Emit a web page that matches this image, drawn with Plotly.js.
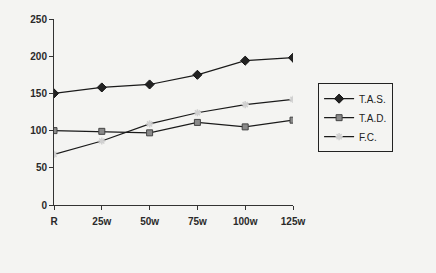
<!DOCTYPE html>
<html>
<head>
<meta charset="utf-8">
<script src="https://cdn.plot.ly/plotly-3.0.1.min.js"></script>
<style>
  html, body { margin: 0; padding: 0; background: #f4f4f2; }
  #chart { width: 436px; height: 273px; }
</style>
</head>
<body>
<div id="chart"></div>
<script>
// Load levels on the x axis
const categories = ['R', '25w', '50w', '75w', '100w', '125w'];
// Series values
const tas = [150, 158, 162, 175, 194, 198];
const tad = [100, 99, 97, 111, 105, 114];
const fc  = [68, 86, 109, 124, 135, 142];
const seriesNames = ['T.A.S.', 'T.A.D.', 'F.C.'];
const yTicks = [0, 50, 100, 150, 200, 250];

const lineStyle = { color: '#1a1a1a', width: 1.2 };

const traces = [
  {
    x: categories, y: tas, name: seriesNames[0], type: 'scatter', mode: 'lines+markers',
    line: lineStyle,
    marker: { symbol: 'diamond', size: 7, color: '#222', line: { color: '#111', width: 1 } }
  },
  {
    x: categories, y: tad, name: seriesNames[1], type: 'scatter', mode: 'lines+markers',
    line: lineStyle,
    marker: { symbol: 'square', size: 6, color: '#8a8a8a', line: { color: '#444', width: 1 } }
  },
  {
    x: categories, y: fc, name: seriesNames[2], type: 'scatter', mode: 'lines+markers',
    line: lineStyle,
    marker: { symbol: 'asterisk', size: 6, color: '#d8d8d8', line: { color: '#d0d0d0', width: 1.5 } }
  }
];

const tickFont = { size: 10, color: '#2a2a2a', weight: 'bold' };

const layout = {
  width: 436, height: 273,
  margin: { l: 54, r: 143, t: 19, b: 68 },
  paper_bgcolor: '#f4f4f2',
  plot_bgcolor: 'rgba(0,0,0,0)',
  font: { family: 'Liberation Sans, Arial, sans-serif', size: 10, color: '#222' },
  showlegend: true,
  legend: {
    x: 1.105, y: 0.655, xanchor: 'left', yanchor: 'top',
    bgcolor: 'rgba(0,0,0,0)', bordercolor: '#222', borderwidth: 1,
    font: { size: 10, color: '#222' },
    itemwidth: 30, tracegroupgap: 0
  },
  xaxis: {
    type: 'category', range: [0, 5],
    showgrid: false, zeroline: false,
    showline: true, linecolor: '#333', linewidth: 1,
    ticks: 'outside', ticklen: 4, tickcolor: '#333',
    ticklabelstandoff: 3,
    tickfont: tickFont
  },
  yaxis: {
    range: [0, 250], tickvals: yTicks,
    showgrid: false, zeroline: false,
    showline: true, linecolor: '#333', linewidth: 1,
    ticks: 'outside', ticklen: 4, tickcolor: '#333',
    tickfont: tickFont
  }
};

Plotly.newPlot('chart', traces, layout, { displayModeBar: false, staticPlot: true });
</script>
</body>
</html>
